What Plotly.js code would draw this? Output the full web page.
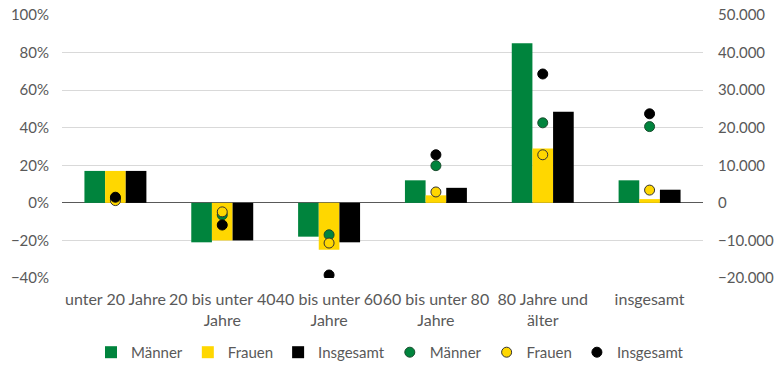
<!DOCTYPE html>
<html><head><meta charset="utf-8">
<script src="https://cdn.plot.ly/plotly-3.0.1.min.js"></script>
<style>body{margin:0}#c{width:780px;height:371px}</style>
</head><body><div id="c"></div>
<script>
const categories = ["unter 20 Jahre","20 bis unter 40<br>Jahre","40 bis unter 60<br>Jahre","60 bis unter 80<br>Jahre","80 Jahre und<br>älter","insgesamt"];
const pctMaenner = [17, -21, -18, 12, 85, 12];
const pctFrauen = [17, -20, -25, 4, 29, 2];
const pctGesamt = [17, -20, -21, 8, 48.5, 7];
const absMaenner = [1000, -3200, -8500, 9900, 21300, 20300];
const absFrauen = [600, -2400, -10700, 2900, 12800, 3400];
const absGesamt = [1500, -5900, -19200, 12800, 34300, 23700];
const green = "#00843D", yellow = "#FFD700", black = "#000000";
const fam = "Lato, 'Open Sans', sans-serif";
const font = {family: fam, size: 15, color: "#595959"};
const traces = [
  {type:"bar", name:"Männer", x:categories, y:pctMaenner, marker:{color:green}},
  {type:"bar", name:"Frauen", x:categories, y:pctFrauen, marker:{color:yellow}},
  {type:"bar", name:"Insgesamt", x:categories, y:pctGesamt, marker:{color:black}},
  {type:"scatter", mode:"markers", name:"Männer", x:categories, y:absMaenner, yaxis:"y2",
   marker:{color:green, size:10, line:{color:"#1a4d2e", width:1}}},
  {type:"scatter", mode:"markers", name:"Frauen", x:categories, y:absFrauen, yaxis:"y2",
   marker:{color:yellow, size:10, line:{color:"#333333", width:1}}},
  {type:"scatter", mode:"markers", name:"Insgesamt", x:categories, y:absGesamt, yaxis:"y2",
   marker:{color:black, size:10, line:{color:black, width:1}}}
];
const layout = {
  width:780, height:371,
  margin:{l:62, r:77, t:15, b:93},
  separators:",.",
  barmode:"group", bargap:0.42, bargroupgap:0,
  font:font,
  paper_bgcolor:"#ffffff", plot_bgcolor:"#ffffff",
  xaxis:{tickfont:{family:fam, size:16, color:"#595959"}, showgrid:false, ticks:"", showline:false,
    automargin:false, ticklabelstandoff:10, tickangle:0},
  yaxis:{range:[-40,100], dtick:20, ticksuffix:"%", tickfont:font,
    gridcolor:"#d9d9d9", gridwidth:1, zeroline:true, zerolinecolor:"#595959", zerolinewidth:1,
    showline:false, ticks:"", automargin:false, ticklabelstandoff:12},
  yaxis2:{overlaying:"y", side:"right", range:[-20000,50000], dtick:10000, tickformat:",d",
    tickfont:font, showgrid:false, zeroline:false, showline:false, ticks:"", automargin:false,
    ticklabelstandoff:14},
  legend:{orientation:"h", x:0.5, xref:"container", xanchor:"center", y:0.05, yref:"container", yanchor:"middle",
    font:{family:fam, size:15, color:"#595959"}, traceorder:"normal", itemwidth:30},
  showlegend:true
};
Plotly.newPlot("c", traces, layout, {displayModeBar:false, staticPlot:true});
</script>
</body></html>
